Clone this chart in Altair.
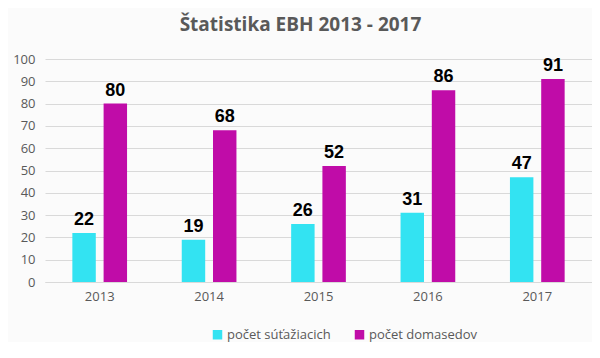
import altair as alt
import pandas as pd

years = ["2013", "2014", "2015", "2016", "2017"]
series = ["počet súťažiacich", "počet domasedov"]
sutaziaci = [22, 19, 26, 31, 47]
domasedi = [80, 68, 52, 86, 91]
colors = ["#33E3F2", "#C00CA8"]

rows = []
for i, y in enumerate(years):
    rows.append({"rok": y, "seria": series[0], "hodnota": sutaziaci[i]})
    rows.append({"rok": y, "seria": series[1], "hodnota": domasedi[i]})
df = pd.DataFrame(rows)

base = alt.Chart(df).encode(
    x=alt.X("rok:N", sort=years,
            scale=alt.Scale(paddingInner=0.5, paddingOuter=0.25),
            axis=alt.Axis(title=None, labelAngle=0, ticks=False, domain=True,
                          domainColor="#d9d9d9", labelColor="#595959",
                          labelFontSize=13, labelFont="Open Sans", labelPadding=8)),
    xOffset=alt.XOffset("seria:N", sort=series,
                        scale=alt.Scale(paddingInner=0.25, paddingOuter=0)),
    y=alt.Y("hodnota:Q", scale=alt.Scale(domain=[0, 100]),
            axis=alt.Axis(title=None, values=list(range(0, 101, 10)), ticks=False,
                          domain=False, gridColor="#d9d9d9", labelColor="#595959",
                          labelFontSize=13, labelFont="Open Sans", labelPadding=10)),
)

bars = base.mark_bar().encode(
    color=alt.Color("seria:N", sort=series,
                    scale=alt.Scale(domain=series, range=colors),
                    legend=alt.Legend(title=None, orient="none", direction="horizontal",
                                      legendX=166, legendY=269,
                                      symbolType="square", symbolSize=90,
                                      labelFontSize=13, labelFont="Open Sans",
                                      labelColor="#595959", columnPadding=22,
                                      labelOffset=3,
                                      symbolStrokeWidth=0))
)

labels = base.mark_text(dy=-13, fontSize=18, fontWeight="bold",
                        font="Liberation Sans", color="black").encode(
    text="hodnota:Q"
)

chart = (bars + labels).properties(
    width=547, height=223,
    title=alt.Title("Štatistika EBH 2013 - 2017", fontSize=19, font="Open Sans",
                    fontWeight="bold", color="#595959", offset=18, dx=-18),
    autosize=alt.AutoSizeParams(type="none"),
    padding={"left": 37, "top": 51, "right": 0, "bottom": 60},
    background="#fbfbfb",
).configure_view(stroke=None)

chart.save("out.html", embed_options={"renderer": "svg", "actions": False})
